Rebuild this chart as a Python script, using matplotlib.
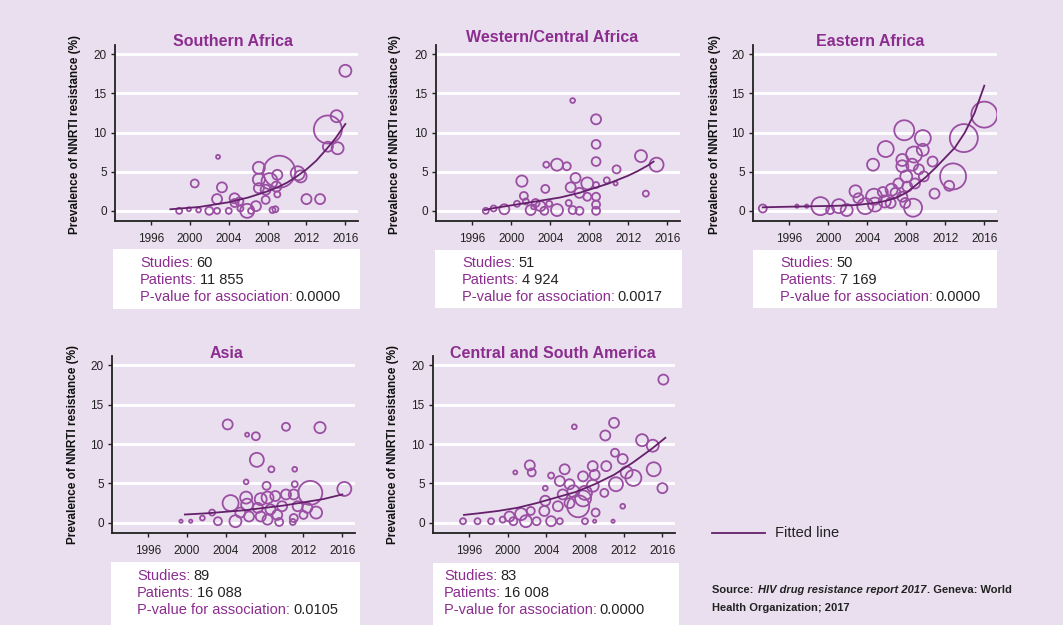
import matplotlib
matplotlib.use("Agg")
import matplotlib.pyplot as plt
from matplotlib.patches import Rectangle

# ---- data ----
sa_year = [2016.0, 2015.1, 2014.2, 2015.2, 2014.2, 2002.9, 2000.5, 2003.3, 2002.8, 2007.1,
           2009.2, 2011.1, 2011.4, 2009.0, 2007.1, 2008.2, 2007.1, 2007.8, 2008.9, 2009.0,
           2007.8, 2012.0, 2013.4, 2004.6, 2005.1, 2004.6, 2005.9, 2006.8, 1998.9, 1999.9,
           2000.9, 2002.0, 2002.8, 2004.0, 2005.2, 2008.5, 2008.8, 2006.3]
sa_prev = [17.9, 12.1, 10.4, 8.0, 8.2, 6.9, 3.5, 3.0, 1.5, 5.5,
           5.0, 4.8, 4.4, 4.6, 4.0, 3.8, 2.9, 2.7, 3.1, 2.1,
           1.4, 1.5, 1.5, 1.6, 1.2, 1.0, 0.0, 0.6, 0.0, 0.2,
           0.1, 0.0, 0.0, 0.0, 0.3, 0.1, 0.2, 0.0]
sa_patients = [207, 207, 1129, 207, 144, 23, 92, 144, 144, 207,
               1475, 282, 207, 144, 207, 369, 144, 144, 144, 52,
               92, 144, 144, 144, 92, 92, 282, 144, 52, 23,
               33, 92, 52, 52, 52, 52, 52, 52]
sa_fit_year = [1998, 1999, 2000, 2001, 2002, 2003, 2004, 2005, 2006, 2007,
               2008, 2009, 2010, 2011, 2012, 2013, 2014, 2015, 2016]
sa_fit_prev = [0.2, 0.3, 0.4, 0.5, 0.7, 0.9, 1.1, 1.4, 1.7, 2.1,
               2.5, 3.0, 3.6, 4.4, 5.3, 6.4, 7.8, 9.3, 11.1]

wca_year = [2006.3, 2008.7, 2008.7, 2008.7, 2013.3, 2014.9, 2013.8, 2010.8, 2003.6, 2004.7,
            2005.7, 2001.1, 2003.5, 2006.6, 2006.1, 2007.8, 2008.7, 2009.8, 2010.7, 2007.0,
            2007.8, 2008.7, 2001.3, 2001.5, 2002.5, 2003.0, 2002.0, 2004.7, 2003.9, 2005.9,
            2006.3, 2007.0, 2008.7, 2008.7, 1997.4, 1998.2, 1999.3, 2000.6, 2003.4, 2002.3]
wca_prev = [14.1, 11.7, 8.5, 6.3, 7.0, 5.9, 2.2, 5.3, 5.9, 5.9,
            5.7, 3.8, 2.8, 4.2, 3.0, 3.5, 3.3, 3.9, 3.5, 2.3,
            1.8, 1.8, 1.9, 1.2, 1.0, 0.6, 0.1, 0.1, 0.9, 1.0,
            0.1, 0.0, 0.8, 0.0, 0.0, 0.3, 0.2, 0.9, 0.0, 0.5]
wca_patients = [33, 144, 112, 112, 207, 282, 52, 92, 52, 207,
                92, 181, 92, 144, 144, 207, 52, 52, 23, 144,
                92, 92, 92, 52, 92, 144, 144, 207, 52, 52,
                92, 92, 92, 92, 52, 52, 144, 52, 92, 33]
wca_fit_year = [1997.3, 1998, 1999, 2000, 2001, 2002, 2003, 2004, 2005, 2006,
                2007, 2008, 2009, 2010, 2011, 2012, 2013, 2014, 2014.6]
wca_fit_prev = [0.1, 0.3, 0.5, 0.7, 0.9, 1.1, 1.3, 1.5, 1.7, 2.0,
                2.3, 2.7, 3.1, 3.5, 4.0, 4.5, 5.1, 5.8, 6.3]

ea_year = [1993.3, 1996.8, 1997.8, 1999.2, 2001.1, 2001.9, 2000.2, 2002.8, 2003.1, 2003.8,
           2004.7, 2004.8, 2005.8, 2005.6, 2006.5, 2004.6, 2005.9, 2007.8, 2009.7, 2009.7,
           2008.8, 2007.6, 2007.6, 2008.0, 2008.6, 2009.3, 2009.8, 2010.7, 2008.9, 2008.1,
           2007.2, 2006.9, 2007.6, 2008.7, 2007.9, 2006.4, 2010.9, 2012.4, 2012.8, 2013.9,
           2016.0]
ea_prev = [0.3, 0.6, 0.6, 0.6, 0.6, 0.1, 0.1, 2.5, 1.6, 0.6,
           1.8, 0.8, 1.2, 2.4, 2.7, 5.9, 7.9, 10.3, 9.3, 7.8,
           7.2, 6.5, 5.7, 4.4, 5.9, 5.3, 4.4, 6.3, 3.5, 3.1,
           3.5, 2.3, 1.8, 0.4, 1.0, 1.0, 2.2, 3.2, 4.4, 9.3,
           12.3]
ea_patients = [92, 15, 15, 467, 282, 207, 92, 207, 144, 369,
               369, 282, 207, 144, 207, 207, 369, 576, 369, 207,
               369, 207, 207, 207, 207, 144, 144, 144, 144, 144,
               144, 144, 144, 467, 144, 144, 144, 144, 973, 1129,
               973]
ea_fit_year = [1993.3, 1995, 1997, 1999, 2001, 2003, 2004, 2005, 2006, 2007,
               2008, 2009, 2010, 2011, 2012, 2013, 2014, 2015, 2016]
ea_fit_prev = [0.45, 0.5, 0.55, 0.6, 0.65, 0.75, 0.9, 1.05, 1.3, 1.7,
               2.3, 3.3, 4.3, 5.5, 6.8, 8.1, 10.0, 12.5, 16.0]

asia_year = [2004.2, 2010.2, 2013.7, 2006.2, 2007.1, 2007.2, 2008.7, 2011.1, 2006.1, 2008.2,
             2011.1, 2012.7, 2016.2, 2004.5, 2006.1, 2006.2, 2007.6, 2008.3, 2009.1, 2010.2,
             2011.0, 2007.3, 2008.6, 2009.8, 2011.4, 2012.4, 2013.3, 2005.5, 2005.0, 2006.4,
             2007.6, 2008.3, 2009.5, 2011.0, 2010.9, 2003.2, 2002.6, 2001.6, 1999.4, 2000.4,
             2012.0, 2009.3]
asia_prev = [12.5, 12.2, 12.1, 11.2, 11.0, 8.0, 6.8, 6.8, 5.2, 4.7,
             4.9, 3.8, 4.3, 2.5, 3.2, 2.3, 3.0, 3.2, 3.4, 3.6,
             3.6, 1.9, 1.7, 2.1, 2.1, 1.9, 1.3, 1.3, 0.2, 0.8,
             0.8, 0.4, 0.1, 0.6, 0.1, 0.2, 1.3, 0.6, 0.2, 0.2,
             1.0, 1.0]
asia_patients = [144, 92, 181, 23, 92, 282, 52, 33, 33, 92,
                 52, 829, 282, 369, 207, 207, 207, 207, 144, 144,
                 144, 144, 144, 144, 144, 144, 207, 144, 207, 144,
                 144, 144, 92, 92, 52, 92, 52, 33, 15, 15,
                 92, 144]
asia_fit_year = [1999.8, 2002, 2004, 2006, 2008, 2010, 2012, 2014, 2016]
asia_fit_prev = [1.05, 1.2, 1.4, 1.6, 1.9, 2.2, 2.6, 3.0, 3.6]

csa_year = [2016.1, 2011.0, 2010.1, 2006.9, 2013.9, 2015.0, 2015.1, 2016.0, 2011.9, 2010.9,
            2009.0, 2002.3, 2002.5, 2000.8, 2004.5, 2005.9, 2003.9, 2005.4, 2006.4, 2007.8,
            2008.8, 2009.0, 2010.2, 2011.1, 2011.9, 2012.3, 2013.0, 2011.2, 2010.0, 2008.8,
            2008.0, 2006.8, 2005.7, 2006.4, 2007.3, 2007.8, 2003.9, 2005.2, 2003.8, 2002.4,
            2001.4, 2000.2, 1999.5, 2001.9, 2000.6, 2003.0, 2004.5, 2005.4, 1998.3, 1996.9,
            1995.4, 2008.0, 2009.1]
csa_prev = [18.2, 12.7, 11.1, 12.2, 10.5, 9.8, 6.8, 4.4, 2.1, 0.2,
            0.2, 7.3, 6.4, 6.4, 6.0, 6.8, 4.4, 5.3, 4.9, 5.9,
            7.2, 6.1, 7.2, 8.9, 8.1, 6.4, 5.7, 4.9, 3.8, 4.7,
            3.8, 4.0, 3.6, 2.5, 2.1, 3.1, 2.8, 2.1, 1.5, 1.5,
            1.1, 0.8, 0.4, 0.2, 0.2, 0.2, 0.2, 0.2, 0.2, 0.2,
            0.2, 0.2, 1.3]
csa_patients = [144, 144, 144, 33, 207, 207, 282, 144, 33, 15,
                15, 144, 92, 23, 52, 144, 33, 144, 144, 144,
                144, 144, 144, 92, 144, 207, 369, 282, 92, 207,
                282, 207, 144, 144, 697, 369, 144, 144, 144, 92,
                207, 144, 52, 207, 92, 92, 144, 52, 52, 52,
                52, 52, 92]
csa_fit_year = [1995.5, 1997, 1999, 2001, 2003, 2005, 2007, 2009, 2011, 2013, 2015, 2016.3]
csa_fit_prev = [1.0, 1.2, 1.5, 1.9, 2.5, 3.2, 3.9, 4.9, 6.1, 7.7, 9.5, 10.8]

titles = ["Southern Africa", "Western/Central Africa", "Eastern Africa",
          "Asia", "Central and South America"]
studies = ["60", "51", "50", "89", "83"]
patients_total = ["11 855", "4 924", "7 169", "16 088", "16 008"]
p_values = ["0.0000", "0.0017", "0.0000", "0.0105", "0.0000"]

# ---- styling ----
W, H = 1063, 625
BG = "#eadfee"
PURPLE = "#8b2d8f"
MARK = "#9a4fa3"
FIT = "#64206a"
plt.rcParams["font.family"] = ["Liberation Sans", "DejaVu Sans"]

fig = plt.figure(figsize=(W / 100, H / 100), dpi=100, facecolor=BG)


def fx(x):
    return x / W


def fy(y):
    return 1 - y / H


def add_box(left, top, right, bottom):
    fig.add_artist(Rectangle((fx(left), fy(bottom)), fx(right - left), (bottom - top) / H,
                             transform=fig.transFigure, facecolor="white", edgecolor="none",
                             zorder=0))


renderer = fig.canvas.get_renderer()


def label_value(x, y, label, value, size=10.5):
    t = fig.text(fx(x), fy(y), label, color=PURPLE, fontsize=size, va="center")
    ext = t.get_window_extent(renderer)
    fig.text(fx(ext.x1 + 3), fy(y), value, color="#222222", fontsize=size, va="center")


# axes boxes in pixels: left, top, right, bottom
panels = [
    dict(box=(115, 45, 358, 221), data=(sa_year, sa_prev, sa_patients, sa_fit_year, sa_fit_prev),
         title_xy=(233, 41), ylab_xy=(75, 134), info=(113, 249, 360, 309), text_x=140, text_y=263),
    dict(box=(436, 45, 680, 221), data=(wca_year, wca_prev, wca_patients, wca_fit_year, wca_fit_prev),
         title_xy=(552, 37), ylab_xy=(395, 134), info=(435, 250, 682, 308), text_x=462, text_y=263),
    dict(box=(753, 45, 997, 221), data=(ea_year, ea_prev, ea_patients, ea_fit_year, ea_fit_prev),
         title_xy=(870, 41), ylab_xy=(715, 134), info=(753, 250, 997, 308), text_x=780, text_y=263),
    dict(box=(112, 356, 355, 533), data=(asia_year, asia_prev, asia_patients, asia_fit_year, asia_fit_prev),
         title_xy=(227, 353), ylab_xy=(73, 444), info=(111, 562, 360, 625), text_x=137, text_y=576),
    dict(box=(433, 356, 675, 533), data=(csa_year, csa_prev, csa_patients, csa_fit_year, csa_fit_prev),
         title_xy=(553, 353), ylab_xy=(393, 444), info=(433, 563, 679, 625), text_x=444, text_y=576),
]

for i, p in enumerate(panels):
    left, top, right, bottom = p["box"]
    ax = fig.add_axes([fx(left), fy(bottom), fx(right - left), (bottom - top) / H])
    ax.set_facecolor("none")
    years, prev, pats, fit_y, fit_v = p["data"]
    ax.scatter(years, prev, s=[n * 0.36 for n in pats], facecolors="none",
               edgecolors=MARK, linewidths=1.3, zorder=3)
    ax.plot(fit_y, fit_v, color=FIT, lw=1.3, zorder=4)
    ax.set_xlim(1992.3, 2017.3)
    ax.set_ylim(-1.3, 21.2)
    ax.set_xticks([1996, 2000, 2004, 2008, 2012, 2016])
    ax.set_yticks([0, 5, 10, 15, 20])
    ax.yaxis.grid(True, color="white", lw=2)
    ax.set_axisbelow(True)
    for s in ["top", "right"]:
        ax.spines[s].set_visible(False)
    for s in ["left", "bottom"]:
        ax.spines[s].set_linewidth(1.3)
        ax.spines[s].set_color("#222222")
    ax.tick_params(axis="both", direction="out", length=3, width=1, color="#222222",
                   labelsize=8.5, labelcolor="#222222")
    ax.tick_params(axis="x", pad=6)
    ax.tick_params(axis="y", pad=3)

    fig.text(fx(p["title_xy"][0]), fy(p["title_xy"][1]), titles[i], color=PURPLE,
             fontsize=11.5, fontweight="bold", ha="center", va="center")
    fig.text(fx(p["ylab_xy"][0]), fy(p["ylab_xy"][1]), "Prevalence of NNRTI resistance (%)",
             rotation=90, fontsize=8.5, fontweight="bold", color="#111111",
             ha="center", va="center")

    add_box(*p["info"])
    tx, ty = p["text_x"], p["text_y"]
    label_value(tx, ty, "Studies:", studies[i])
    label_value(tx, ty + 17, "Patients:", patients_total[i])
    label_value(tx, ty + 34, "P-value for association:", p_values[i])

# legend for the fitted line
fig.add_artist(plt.Line2D([fx(712), fx(765)], [fy(533), fy(533)], color=FIT, lw=1.3,
                          transform=fig.transFigure))
fig.text(fx(775), fy(533), "Fitted line", fontsize=10.5, color="#222222", va="center")

# source note
parts = [("Source: ", "normal"), ("HIV drug resistance report 2017", "italic"),
         (". Geneva: World", "normal")]
x = 712
for txt, style in parts:
    t = fig.text(fx(x), fy(590), txt, fontsize=8, fontweight="bold", style=style,
                 color="#222222", va="center")
    x = t.get_window_extent(renderer).x1 + (2 if txt.endswith(" ") else 0)
fig.text(fx(712), fy(608), "Health Organization; 2017", fontsize=8, fontweight="bold",
         color="#222222", va="center")

fig.savefig("out.png", dpi=100, facecolor=BG)
